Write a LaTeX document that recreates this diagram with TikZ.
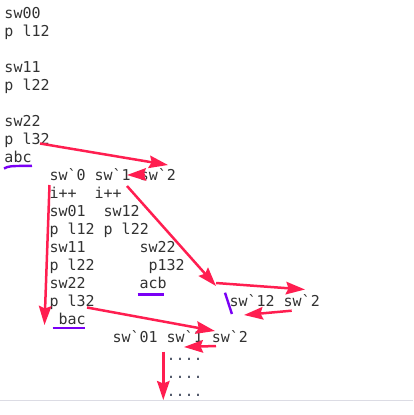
\documentclass[tikz,border=0pt]{standalone}
\usepackage{fontspec}
\usepackage{tikz}
\usepackage{xcolor}
\usetikzlibrary{arrows.meta}
\setmonofont{DejaVu Sans Mono}
\definecolor{codegray}{RGB}{50,50,50}
\definecolor{dotgray}{RGB}{70,78,96}
\definecolor{jumpred}{RGB}{255,30,80}
\definecolor{hilite}{RGB}{122,0,245}
\definecolor{rulegray}{RGB}{220,220,228}

\begin{document}
\begin{tikzpicture}[x=1pt,y=-1pt,
        txt/.style={font=\ttfamily\fontsize{15}{18}\selectfont, text=codegray, inner sep=0pt, anchor=base west},
        jump/.style={-{Stealth[length=19pt,width=12.5pt,inset=2.5pt]}, jumpred, line width=2.5pt},
        underl/.style={hilite, line width=2.4pt}]
                \useasboundingbox (0,0) rectangle (413,415);
                \draw[rulegray, line width=1pt] (0,400.5) -- (413,400.5);
                % first column
                \node[txt] (sw00) at (4.3,18.3) {sw00};
                \node[txt] (pl12) at (4.3,36.3) {p l12};
                \node[txt] (sw11) at (4.3,72.3) {sw11};
                \node[txt] (pl22) at (4.3,90.3) {p l22};
                \node[txt] (sw22) at (4.3,126.3) {sw22};
                \node[txt] (pl32) at (4.3,144.3) {p l32};
                \node[txt] (abc) at (4.3,162.3) {abc};
                % second block
                \node[txt] (swrow) at (49.3,180.3) {sw`0 sw`1 sw`2};
                \node[txt] (inca) at (49.3,198.3) {i++};
                \node[txt] (incb) at (94.3,198.3) {i++};
                \node[txt] (swa) at (49.3,216.3) {sw01};
                \node[txt] (swb) at (103.3,216.3) {sw12};
                \node[txt] (plrow) at (49.3,234.3) {p l12 p l22};
                \node[txt] (swc) at (49.3,252.3) {sw11};
                \node[txt] (swd) at (139.3,252.3) {sw22};
                \node[txt] (ple) at (49.3,270.3) {p l22};
                \node[txt] (plf) at (148.3,270.3) {p132};
                \node[txt] (swg) at (49.3,288.3) {sw22};
                \node[txt] (acb) at (139.3,288.3) {acb};
                \node[txt] (plh) at (49.3,306.3) {p l32};
                \node[txt] (bac) at (58.3,324.3) {bac};
                % third block
                \node[txt] (swtwo) at (229.3,306.3) {sw`12 sw`2};
                \node[txt] (swthree) at (112.3,342.3) {sw`01 sw`1 sw`2};
                \node[txt, text=dotgray] (dotsa) at (166.3,360.3) {....};
                \node[txt, text=dotgray] (dotsb) at (166.3,378.3) {....};
                \node[txt, text=dotgray] (dotsc) at (166.3,396.3) {....};
                % marks
                \draw[underl] (4,168.5) .. controls (9,166) .. (32,165.8);
                \draw[underl] (137.7,294.3) -- (164,294.3);
                \draw[underl] (52.7,327.7) -- (85,327.7);
                \draw[underl] (225,292.7) -- (231.9,314);
                % jumps
                \coordinate (j1s) at (40,143.5);   \coordinate (j1e) at (168,165);
                \coordinate (j2s) at (145,174.5);  \coordinate (j2e) at (127,175);
                \coordinate (j3s) at (49.5,185);   \coordinate (j3e) at (44.5,325);
                \coordinate (j4s) at (127,186);    \coordinate (j4e) at (216,286);
                \coordinate (j5s) at (216,283);    \coordinate (j5e) at (305,289.5);
                \coordinate (j6s) at (291.7,310.7); \coordinate (j6e) at (244,315);
                \coordinate (j7s) at (87,307.5);   \coordinate (j7e) at (215,331);
                \coordinate (j8s) at (216,346);    \coordinate (j8e) at (184,347);
                \coordinate (j9s) at (163.3,351.7); \coordinate (j9e) at (163.3,400);
                \foreach \j in {1,...,9}
                    \draw[jump] (j\j s) -- (j\j e);
            \end{tikzpicture}
\end{document}
